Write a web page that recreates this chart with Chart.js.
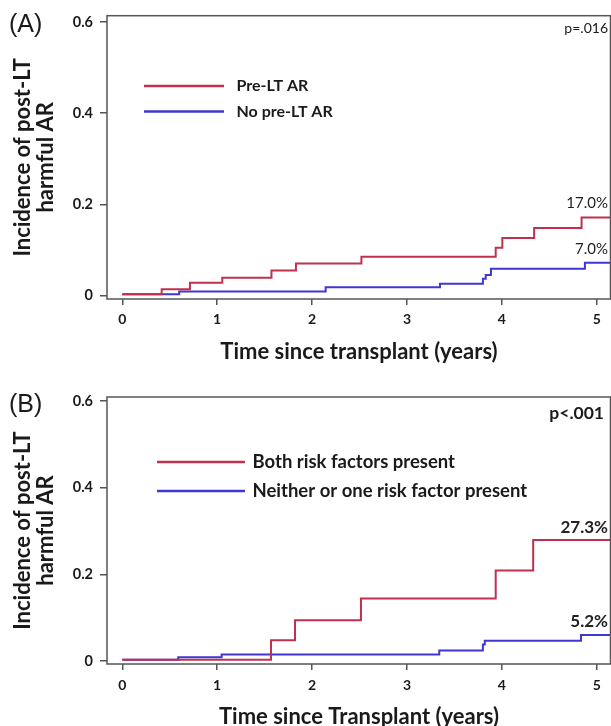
<!DOCTYPE html>
<html>
<head>
<meta charset="utf-8">
<script src="https://cdn.jsdelivr.net/npm/chart.js@4.4.1/dist/chart.umd.min.js"></script>
<style>
  html, body { margin: 0; padding: 0; background: #fff; overflow: hidden; }
  #panelA { position: absolute; left: 0; top: 0; }
  #panelB { position: absolute; left: 0; top: 375px; }
</style>
</head>
<body>
<canvas id="panelA" width="611" height="375"></canvas>
<canvas id="panelB" width="611" height="360"></canvas>
<script>
const yearTicks = [0, 1, 2, 3, 4, 5];
const incidenceTicks = [0, 0.2, 0.4, 0.6];

// Panel A: pre-LT acute rejection
const aSeriesNames = ["Pre-LT AR", "No pre-LT AR"];
const aPreTimes = [0, 0.415, 0.713, 1.054, 1.572, 1.83, 2.52, 3.935, 4.005, 4.34, 4.84, 5.15];
const aPreValues = [0.003, 0.014, 0.028, 0.039, 0.055, 0.070, 0.085, 0.105, 0.126, 0.148, 0.171, 0.171];
const aNoTimes = [0, 0.60, 2.143, 3.348, 3.80, 3.83, 3.885, 4.875, 5.15];
const aNoValues = [0.003, 0.009, 0.018, 0.026, 0.037, 0.045, 0.059, 0.072, 0.072];
const aEndLabels = ["17.0%", "7.0%"];
const aPValue = "p=.016";

// Panel B: risk factors
const bSeriesNames = ["Both risk factors present", "Neither or one risk factor present"];
const bBothTimes = [0, 1.567, 1.82, 2.515, 3.935, 4.33, 5.15];
const bBothValues = [0.003, 0.048, 0.094, 0.144, 0.209, 0.279, 0.279];
const bOtherTimes = [0, 0.59, 1.047, 3.34, 3.80, 3.82, 4.834, 5.15];
const bOtherValues = [0.003, 0.0085, 0.015, 0.024, 0.038, 0.047, 0.060, 0.060];
const bEndLabels = ["27.3%", "5.2%"];
const bPValue = "p<.001";

const RED = "#c0304f";
const BLUE = "#4036d2";
const AXIS = "#555";
const INK = "#1a1a1a";

function points(xs, ys) {
  return xs.map((x, i) => ({ x: x, y: ys[i] }));
}

// draws box, panel letter, legend, p-value and end labels
const decorations = {
  id: "decorations",
  afterDraw(chart, args, o) {
    const ctx = chart.ctx;
    const ca = chart.chartArea;
    ctx.save();
    ctx.strokeStyle = AXIS;
    ctx.lineWidth = 1.5;
    ctx.strokeRect(ca.left, ca.top, ca.right - ca.left - 0.5, ca.bottom - ca.top);

    ctx.fillStyle = INK;
    ctx.font = "25px 'Liberation Sans', Arial";
    ctx.textAlign = "left";
    ctx.textBaseline = "middle";
    ctx.fillText(o.letter, 9, o.letterY);

    ctx.font = o.pFont;
    ctx.textAlign = "right";
    ctx.fillText(o.pText, o.pX, o.pY);

    // legend
    chart.data.datasets.forEach((ds, i) => {
      const y = o.legendY[i];
      ctx.strokeStyle = ds.borderColor;
      ctx.lineWidth = 2.5;
      ctx.beginPath();
      ctx.moveTo(o.legendX[0], y);
      ctx.lineTo(o.legendX[1], y);
      ctx.stroke();
      ctx.fillStyle = INK;
      ctx.font = o.legendFont;
      ctx.textAlign = "left";
      ctx.fillText(ds.label, o.legendX[2], y);
    });

    // final cumulative incidence
    ctx.font = o.endFont;
    ctx.textAlign = "right";
    ctx.fillStyle = "#222";
    chart.data.datasets.forEach((ds, i) => {
      const last = ds.data[ds.data.length - 1];
      const y = chart.scales.y.getPixelForValue(last.y);
      ctx.fillText(o.endLabels[i], 608, y - o.endGap[i]);
    });
    ctx.restore();
  }
};

function makePanel(canvas, names, series, opts) {
  return new Chart(canvas, {
    type: "line",
    data: {
      datasets: series.map((s, i) => ({
        label: names[i],
        data: s,
        borderColor: i === 0 ? RED : BLUE,
        borderWidth: 2,
        pointRadius: 0,
        stepped: "before",
        fill: false
      }))
    },
    options: {
      responsive: false,
      animation: false,
      layout: { padding: { top: opts.top, left: 0, right: 0, bottom: 0 } },
      plugins: {
        legend: { display: false },
        tooltip: { enabled: false },
        decorations: opts.deco
      },
      scales: {
        x: {
          type: "linear",
          min: -0.161,
          max: 5.15,
          afterBuildTicks: s => { s.ticks = yearTicks.map(v => ({ value: v })); },
          afterFit: s => { s.height = opts.xHeight; },
          grid: { drawOnChartArea: false, drawTicks: true, tickLength: 6, color: AXIS, lineWidth: 1.5 },
          border: { display: false },
          ticks: { color: INK, font: { family: "Lato", size: 14, weight: "bold" }, padding: opts.xTickPad, maxRotation: 0 },
          title: {
            display: true,
            text: opts.xTitle,
            color: INK,
            font: { family: "Lato", size: 22, weight: "bold", lineHeight: 1.2 },
            padding: { top: 0, bottom: opts.xTitlePad }
          }
        },
        y: {
          min: opts.yMin,
          max: opts.yMax,
          afterBuildTicks: s => { s.ticks = incidenceTicks.map(v => ({ value: v })); },
          afterFit: s => { s.width = 107; },
          grid: { drawOnChartArea: false, drawTicks: true, tickLength: 7, color: AXIS, lineWidth: 1.5 },
          border: { display: false },
          ticks: { color: INK, font: { family: "Lato", size: 14.5, weight: "bold" }, padding: 7, callback: v => String(v) },
          title: {
            display: true,
            text: ["Incidence of post-LT", "harmful AR"],
            color: INK,
            font: { family: "Lato", size: 22, weight: "bold", lineHeight: 1.05 },
            padding: { top: 11.5, bottom: 0 }
          }
        }
      }
    },
    plugins: [decorations]
  });
}

makePanel(document.getElementById("panelA"), aSeriesNames,
  [points(aPreTimes, aPreValues), points(aNoTimes, aNoValues)],
  {
    top: 12.7, xHeight: 76, xTickPad: 6, xTitlePad: 10,
    xTitle: "Time since transplant (years)",
    yMin: -0.0076, yMax: 0.6137,
    deco: {
      letter: "(A)", letterY: 25,
      pText: aPValue, pX: 608, pY: 28, pFont: "14px Lato",
      legendX: [144, 224, 236.5], legendY: [86, 111.5], legendFont: "bold 16px Lato",
      endLabels: aEndLabels, endGap: [14, 14], endFont: "15px Lato"
    }
  });

makePanel(document.getElementById("panelB"), bSeriesNames,
  [points(bBothTimes, bBothValues), points(bOtherTimes, bOtherValues)],
  {
    top: 22, xHeight: 71, xTickPad: 7, xTitlePad: 5,
    xTitle: "Time since Transplant (years)",
    yMin: -0.0069, yMax: 0.609,
    deco: {
      letter: "(B)", letterY: 30.5,
      pText: bPValue, pX: 604, pY: 38.6, pFont: "bold 17.5px Lato",
      legendX: [157, 245, 252.5], legendY: [87, 116], legendFont: "bold 18.5px Lato",
      endLabels: bEndLabels, endGap: [13, 13], endFont: "bold 17px Lato"
    }
  });
</script>
</body>
</html>
